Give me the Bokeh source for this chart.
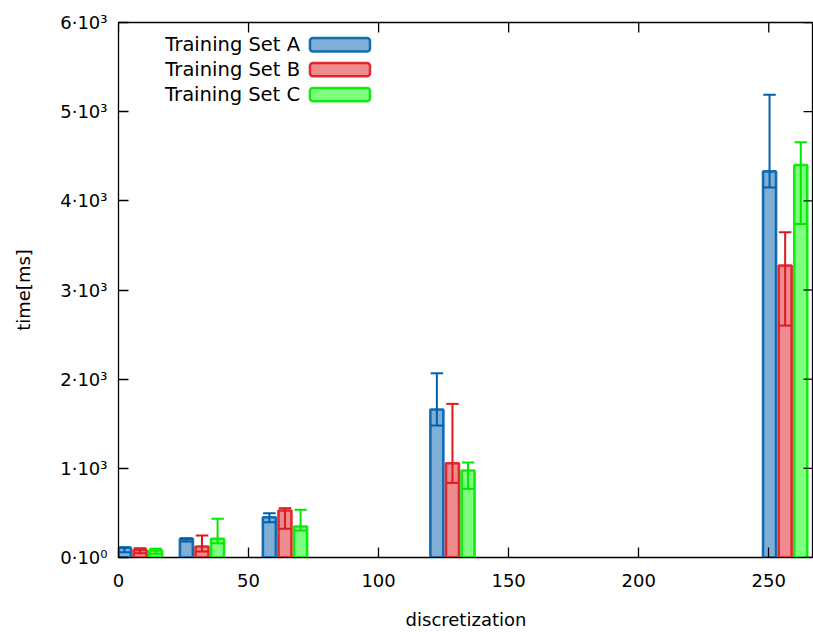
import math
from bokeh.plotting import figure
from bokeh.models import (ColumnDataSource, FixedTicker, Range1d,
                          Label, BoxAnnotation)
from bokeh.embed import file_html
from bokeh.resources import INLINE

# ---- data ----
series = ["Training Set A", "Training Set B", "Training Set C"]
x_a = [2.3, 26.1, 58.0, 122.4, 250.3]          # group positions of set A
offset_b = 6.0
offset_c = 12.0

a_val = [109, 209, 452, 1659, 4330]
a_low = [60, 179, 396, 1480, 4150]
a_high = [115, 217, 497, 2066, 5190]

b_val = [86, 123, 527, 1057, 3274]
b_low = [48, 67, 322, 837, 2601]
b_high = [104, 247, 553, 1723, 3647]

c_val = [78, 209, 348, 975, 4402]
c_low = [41, 160, 303, 770, 3741]
c_high = [97, 434, 535, 1065, 4656]

y_ticks = [0, 1000, 2000, 3000, 4000, 5000, 6000]
y_tick_labels = ["0·10⁰", "1·10³", "2·10³", "3·10³", "4·10³", "5·10³", "6·10³"]
x_ticks = [0, 50, 100, 150, 200, 250]

X_MAX = 267.2
Y_MAX = 6000

line_colors = ["#0060ad", "#dd181f", "#00e800"]
fill_colors = ["#0060ad", "#dd181f", "#00ff00"]

FONT = "DejaVu Sans"

# ---- figure ----
p = figure(width=813, height=632, output_backend="svg", toolbar_location=None,
           x_range=Range1d(0, X_MAX), y_range=Range1d(0, Y_MAX),
           min_border_left=118, min_border_right=0, min_border_top=22,
           min_border_bottom=75, background_fill_color="white",
           border_fill_color="white")
p.grid.visible = False
p.outline_line_color = "black"
p.outline_line_width = 1.3

bar_w = 5.0
cap_half = 2.4

groups = [
    (series[0], [x for x in x_a], a_val, a_low, a_high),
    (series[1], [x + offset_b for x in x_a], b_val, b_low, b_high),
    (series[2], [x + offset_c for x in x_a], c_val, c_low, c_high),
]

for i, (name, xs, val, low, high) in enumerate(groups):
    src = ColumnDataSource(dict(
        x=xs, top=val, low=low, high=high,
        x0=[x - cap_half for x in xs], x1=[x + cap_half for x in xs]))
    p.vbar(x="x", top="top", bottom=0, width=bar_w, source=src,
           fill_color=fill_colors[i], fill_alpha=0.5,
           line_color=line_colors[i], line_width=2.6, line_alpha=0.9)
    p.segment(x0="x", y0="low", x1="x", y1="high", source=src,
              line_color=line_colors[i], line_width=2)
    p.segment(x0="x0", y0="low", x1="x1", y1="low", source=src,
              line_color=line_colors[i], line_width=2)
    p.segment(x0="x0", y0="high", x1="x1", y1="high", source=src,
              line_color=line_colors[i], line_width=2)

# ---- axes ----
def style_axis(ax):
    ax.major_tick_in = 10
    ax.major_tick_out = 0
    ax.minor_tick_line_color = None
    ax.axis_line_color = "black"
    ax.major_tick_line_color = "black"
    ax.major_tick_line_width = 1.3
    ax.major_label_text_font = FONT
    ax.major_label_text_font_size = "18px"
    ax.major_label_text_color = "black"
    ax.axis_label_text_font = FONT
    ax.axis_label_text_font_size = "18px"
    ax.axis_label_text_font_style = "normal"
    ax.axis_label_text_color = "black"

xl = p.xaxis[0]
xl.ticker = FixedTicker(ticks=x_ticks)
xl.axis_label = "discretization"
style_axis(xl)
xl.major_label_standoff = 16
xl.axis_label_standoff = 19

yl = p.yaxis[0]
yl.ticker = FixedTicker(ticks=y_ticks)
yl.major_label_overrides = {t: s for t, s in zip(y_ticks, y_tick_labels)}
yl.axis_label = "time[ms]"
style_axis(yl)
yl.major_label_standoff = 11
yl.axis_label_standoff = 23

# mirrored inward ticks on the top and right borders
p.ray(x=x_ticks, y=[Y_MAX] * len(x_ticks), length=10, length_units="screen",
      angle=-math.pi / 2, line_color="black", line_width=1.3)
p.ray(x=[X_MAX] * len(y_ticks), y=y_ticks, length=10, length_units="screen",
      angle=math.pi, line_color="black", line_width=1.3)

# ---- legend (gnuplot style: text, then swatch) ----
leg_text_x = 69.8      # right edge of legend text (data x)
sw_x0, sw_x1 = 73.6, 96.7
row_y = [5751, 5471, 5191]
sw_half = 75
for i, name in enumerate(series):
    p.add_layout(Label(x=leg_text_x, y=row_y[i], text=name,
                       text_align="right", text_baseline="middle",
                       text_font=FONT, text_font_size="19.5px",
                       text_color="black"))
    p.add_layout(BoxAnnotation(left=sw_x0, right=sw_x1,
                               bottom=row_y[i] - sw_half, top=row_y[i] + sw_half,
                               fill_color=fill_colors[i], fill_alpha=0.5,
                               line_color=line_colors[i], line_width=2.5,
                               line_alpha=0.9, border_radius=3))

open("out.html", "w").write(file_html(p, INLINE))
